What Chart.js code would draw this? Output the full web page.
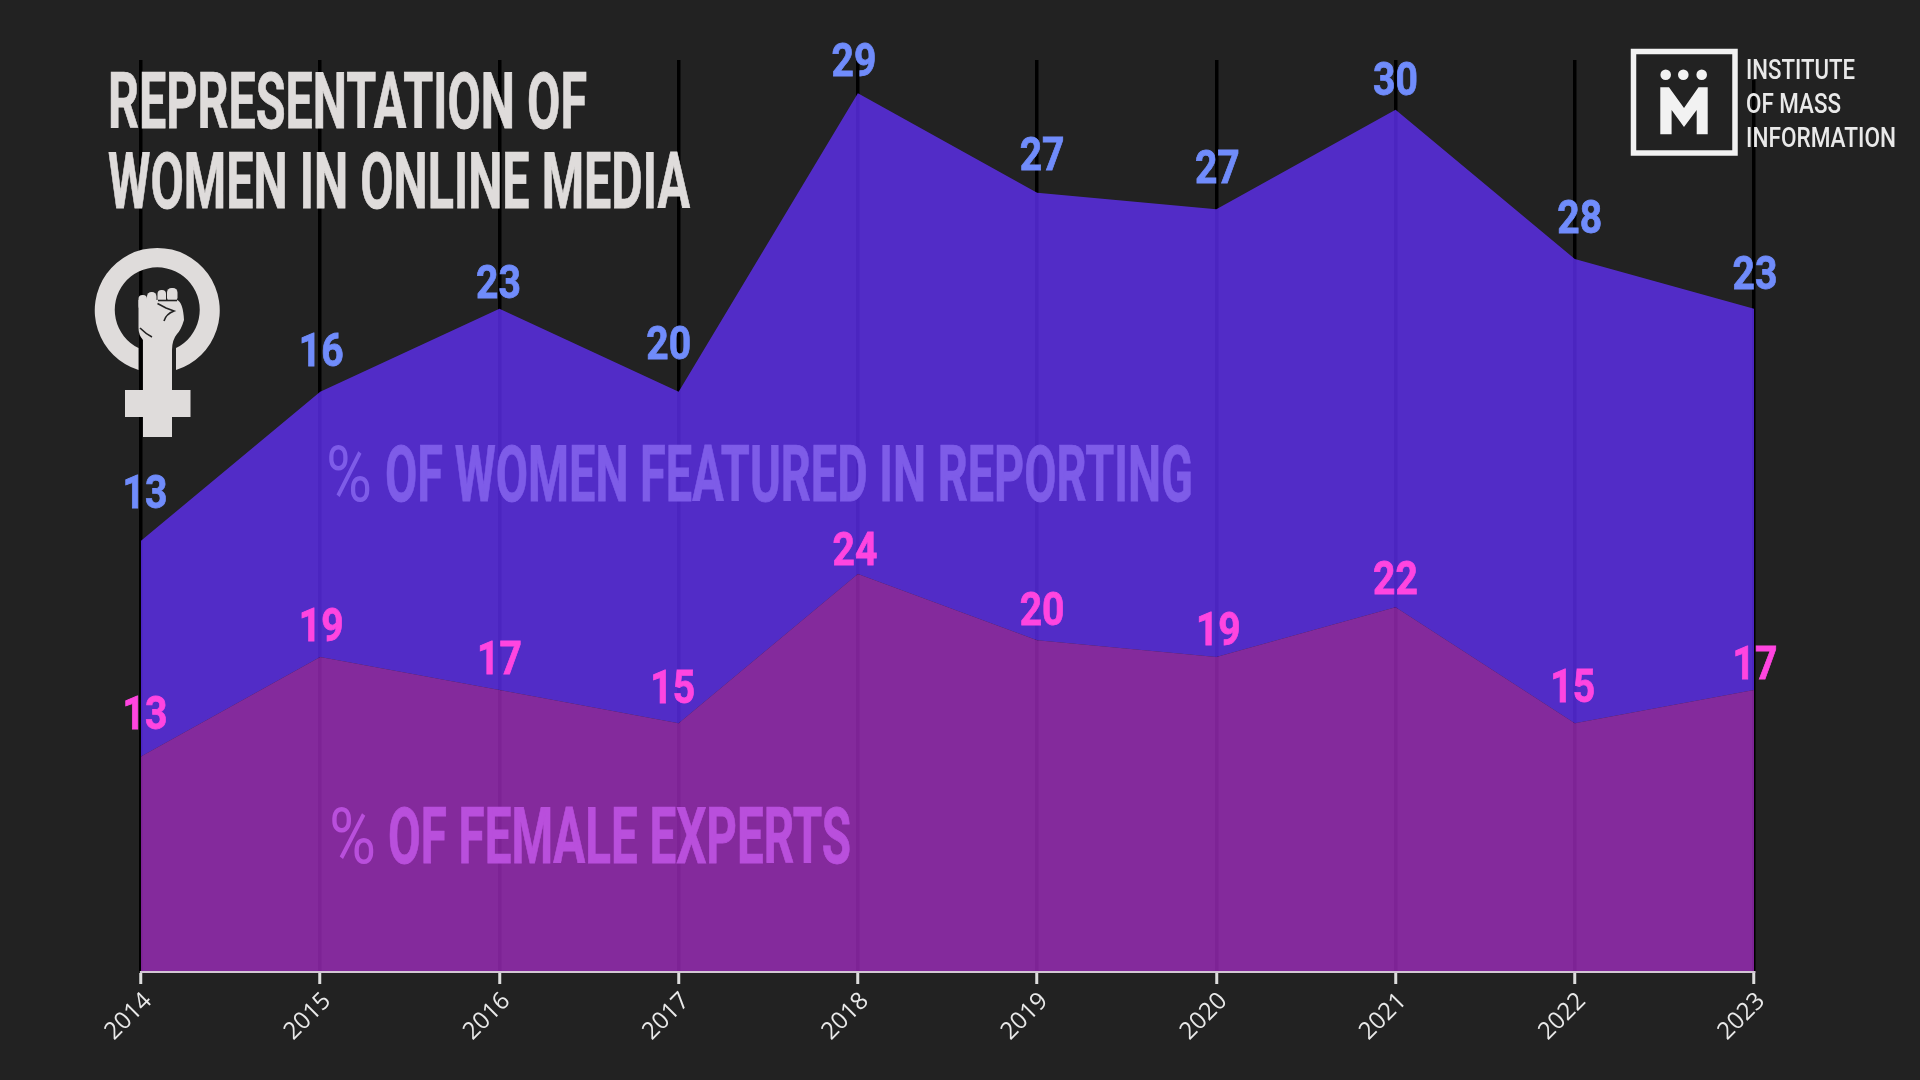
<!DOCTYPE html>
<html><head><meta charset="utf-8">
<script src="https://cdn.jsdelivr.net/npm/chart.js@4"></script>
<style>
html,body{margin:0;padding:0;background:#222222;width:1920px;height:1080px;overflow:hidden}
#wrap{position:relative;width:1920px;height:1080px}
canvas{position:absolute;left:0;top:0}
svg{position:absolute;left:0;top:0}
.big{font-family:"Liberation Sans Narrow","Roboto",sans-serif;font-weight:700;font-size:77px;stroke-width:0.8px}
.pct{font-family:"Liberation Sans Narrow","Roboto",sans-serif;font-weight:400;font-size:77px}
.logo{font-family:"Roboto",sans-serif;font-weight:500;font-size:28px;fill:#e9e9e9}
</style></head><body>
<div id="wrap">
<canvas id="c" width="1920" height="1080"></canvas>
<svg width="1920" height="1080" viewBox="0 0 1920 1080">
  <text class="big" x="108" y="128" fill="#dfdcdb" stroke="#dfdcdb" textLength="479" lengthAdjust="spacingAndGlyphs">REPRESENTATION OF</text>
  <text class="big" x="108" y="208" fill="#dfdcdb" stroke="#dfdcdb" textLength="582" lengthAdjust="spacingAndGlyphs">WOMEN IN ONLINE MEDIA</text>
  <text class="pct" x="326" y="501" fill="#7e5ce8" textLength="46" lengthAdjust="spacingAndGlyphs">%</text>
  <text class="big" x="385" y="501" fill="#7e5ce8" stroke="#7e5ce8" textLength="808" lengthAdjust="spacingAndGlyphs">OF WOMEN FEATURED IN REPORTING</text>
  <text class="pct" x="329" y="863" fill="#b94fdc" textLength="47" lengthAdjust="spacingAndGlyphs">%</text>
  <text class="big" x="388" y="863" fill="#b94fdc" stroke="#b94fdc" textLength="463" lengthAdjust="spacingAndGlyphs">OF FEMALE EXPERTS</text>

  <!-- female symbol with fist -->
  <g fill="#dfdcdb">
    <path d="M138.5,370 A62.5,62.5 0 1 1 176,370 L176,348 A42.5,42.5 0 1 0 138.5,348 Z"/>
    <path d="M138.5,300 L177,300 Q183,302 184,320 Q181,330 177,334 Q172,340 172,350 L172,390 L190.5,390 L190.5,417 L172,417 L172,437 L143,437 L143,417 L125,417 L125,390 L143,390 L143,340 Q138.5,335 138.5,328 Z"/>
    <rect x="138.5" y="295" width="8.5" height="15" rx="4"/>
    <rect x="147" y="292" width="9.5" height="18" rx="4.5"/>
    <rect x="157.5" y="290" width="8.5" height="14" rx="4"/>
    <rect x="167" y="288" width="10.5" height="14" rx="4.5"/>
  </g>
  <g fill="none" stroke="#222222" stroke-width="1.6">
    <path d="M158,300.5 L177,300.5"/>
    <path d="M157.5,303.5 L166,308 L174,311 Q166,314 164,321"/>
    <path d="M140,328 Q146,334 152,337"/>
  </g>

  <!-- logo -->
  <rect x="1745" y="55" width="16" height="25" fill="#222222"/>
  <rect x="1633.5" y="51.5" width="101.5" height="101.5" fill="none" stroke="#f2f2f2" stroke-width="5.5"/>
  <g fill="#f2f2f2">
    <circle cx="1665.7" cy="74.7" r="5.3"/><circle cx="1683.3" cy="74.7" r="5.3"/><circle cx="1701.7" cy="74.7" r="5.3"/>
    <path d="M1660.3,87.3 L1669,87.3 L1684,108 L1698.5,87.3 L1707.7,87.3 L1707.7,134.3 L1696.7,134.3 L1696.7,110 L1684,127 L1671.6,110 L1671.6,134.3 L1660.3,134.3 Z"/>
  </g>
  <text class="logo" x="1746" y="79" textLength="109" lengthAdjust="spacingAndGlyphs">INSTITUTE</text>
  <text class="logo" x="1746" y="113" textLength="95" lengthAdjust="spacingAndGlyphs">OF MASS</text>
  <text class="logo" x="1746" y="147" textLength="150" lengthAdjust="spacingAndGlyphs">INFORMATION</text>
</svg>
</div>
<script>
const years = ["2014","2015","2016","2017","2018","2019","2020","2021","2022","2023"];
const womenFeatured = [13,16,23,20,29,27,27,30,28,23];
const femaleExperts = [13,19,17,15,24,20,19,22,15,17];
const womenLabelDx = [4,1,-1,-10,-4,5,1,0,5,1];
const womenLabelDy = [-44,-37,-22,-44,-29,-34,-38,-26,-37,-31];
const expertLabelDx = [4,1,0,-6,-3,5,2,0,-2,1];
const expertLabelDy = [-39,-27,-28,-32,-21,-27,-23,-25,-33,-23];

const valueLabels = {
  id:'valueLabels',
  afterDatasetsDraw(chart){
    const ctx = chart.ctx;
    const draw = (idx, dx, dy, color) => {
      const meta = chart.getDatasetMeta(idx);
      meta.data.forEach((pt, i) => {
        ctx.save();
        ctx.translate(pt.x + dx[i], pt.y + dy[i]);
        ctx.scale(0.85, 1);
        ctx.font = '700 46px Roboto, sans-serif';
        ctx.textAlign = 'center';
        ctx.textBaseline = 'middle';
        ctx.fillStyle = color;
        ctx.strokeStyle = color;
        ctx.lineWidth = 0.8;
        const t = String(chart.data.datasets[idx].data[i]);
        ctx.fillText(t, 0, 0);
        ctx.strokeText(t, 0, 0);
        ctx.restore();
      });
    };
    draw(1, womenLabelDx, womenLabelDy, '#708cfb');
    draw(0, expertLabelDx, expertLabelDy, '#ff45e0');
  }
};

new Chart(document.getElementById('c'), {
  type:'line',
  data:{
    labels:years,
    datasets:[
      {label:'% of female experts', data:femaleExperts, fill:'origin',
       backgroundColor:'rgba(163,45,194,0.77)', borderWidth:0, pointRadius:0, tension:0},
      {label:'% of women featured in reporting', data:womenFeatured, fill:'-1',
       backgroundColor:'rgba(98,48,250,0.77)', borderWidth:0, pointRadius:0, tension:0}
    ]
  },
  options:{
    responsive:false, animation:false, devicePixelRatio:1,
    layout:{padding:{left:141,right:166,top:60,bottom:0}},
    plugins:{legend:{display:false},title:{display:false},tooltip:{enabled:false}},
    scales:{
      x:{
        offset:false,
        afterFit(s){s.height=108;},
        grid:{color:'#000000',lineWidth:3.5,drawTicks:true,tickLength:12,tickColor:'#dddddd',tickWidth:3},
        border:{display:true,color:'#d2c6d4',width:2,z:1},
        ticks:{color:'#e9e9e9',font:{family:'"Open Sans"',size:24},autoSkip:false,minRotation:45,maxRotation:45,padding:3,labelOffset:7}
      },
      y:{display:false,stacked:true,min:0,max:55}
    }
  },
  plugins:[valueLabels]
});
</script>
</body></html>
